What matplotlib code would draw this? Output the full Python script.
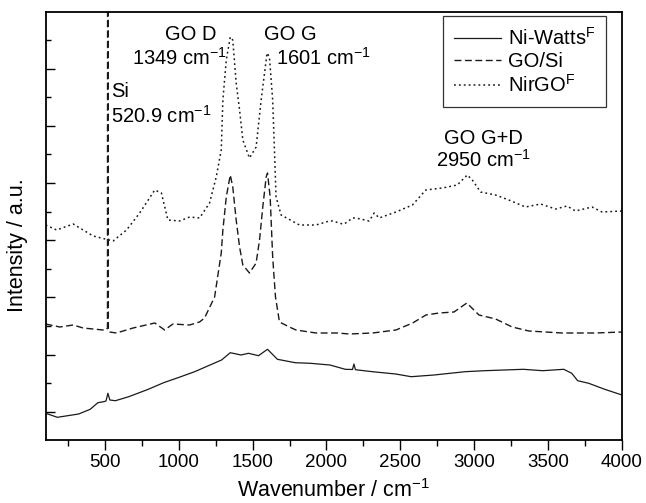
import matplotlib
matplotlib.use("Agg")
import matplotlib.pyplot as plt
from matplotlib.ticker import FixedLocator

plt.rcParams['font.family'] = ['Liberation Sans', 'DejaVu Sans']
plt.rcParams['mathtext.default'] = 'regular'

# ---------------- data (wavenumber in cm^-1, intensity in a.u.) ----------------
ni_watts_x = [100, 179, 323, 401, 453, 493, 508, 521, 534, 572, 662, 794, 898, 1003,
              1108, 1212, 1290, 1349, 1422, 1472, 1540, 1601, 1668, 1788, 1891, 2024,
              2127, 2176, 2186, 2196, 2310, 2469, 2573, 2728, 2937, 3070, 3201, 3332,
              3464, 3606, 3660, 3700, 3775, 3883, 4000]
ni_watts_y = [26.7, 22.7, 26, 30.7, 37.3, 38.3, 39, 46.7, 40, 39.3, 43.3, 50.7, 57.3, 62.7,
              68.3, 75, 80, 87.3, 85, 86.7, 84.3, 90.7, 80.7, 77.3, 76.7, 75,
              70.7, 70.5, 76, 70.3, 68.3, 66, 63.3, 65, 68.3, 69.3, 70, 70.7,
              69.3, 70.7, 66.7, 59.3, 56.7, 50.7, 45]

go_si_x = [100, 196, 286, 353, 489, 510, 518, 521, 524, 532, 579, 691, 838, 905, 961,
           1074, 1141, 1175, 1243, 1288, 1299, 1322, 1349, 1366, 1389, 1412, 1434,
           1479, 1524, 1547, 1569, 1592, 1601, 1619, 1636, 1655, 1682, 1749, 1794,
           1929, 2075, 2154, 2312, 2470, 2583, 2673, 2762, 2863, 2950, 3032, 3145,
           3257, 3370, 3595, 3820, 4000]
go_si_y = [116, 113, 115, 112, 110, 110, 112, 1500, 110, 108, 107, 112, 117, 110, 116,
           115, 118, 122, 143, 187, 210, 243, 265, 253, 220, 193, 175,
           167, 177, 200, 233, 263, 267, 243, 183, 143, 118, 113, 110,
           107, 107, 106, 107, 110, 117, 125, 127, 128, 137, 125, 121,
           113, 109, 107, 107, 108]

nirgo_x = [100, 174, 286, 421, 511, 556, 647, 736, 838, 883, 927, 1006, 1074, 1141,
           1209, 1254, 1288, 1299, 1322, 1349, 1366, 1389, 1412, 1434, 1479, 1524,
           1558, 1598, 1614, 1636, 1648, 1659, 1693, 1817, 1929, 2019, 2041, 2109,
           2120, 2177, 2199, 2289, 2323, 2357, 2470, 2582, 2672, 2784, 2885, 2953,
           2987, 3043, 3145, 3234, 3347, 3449, 3550, 3628, 3685, 3797, 3865, 4000]
nirgo_y = [215, 210, 216, 204, 200.7, 199, 210, 227, 250, 247, 220, 219, 223, 222,
           237, 263, 290, 340, 380, 403, 400, 357, 330, 300, 282, 293,
           340, 387, 383, 340, 290, 243, 225, 215, 215, 219, 219, 216,
           216, 222, 222, 219, 227, 222, 228, 235, 250, 252, 255, 265,
           260, 248, 245, 240, 233, 236, 231, 234, 229, 233, 228, 229]

series_labels = ['Ni-Watts$^{F}$', 'GO/Si', 'NirGO$^{F}$']
x_ticks = [500, 1000, 1500, 2000, 2500, 3000, 3500, 4000]
x_minor_ticks = [250, 750, 1250, 1750, 2250, 2750, 3250, 3750]

# ---------------- figure ----------------
W, H = 646, 503
fig = plt.figure(figsize=(W / 100, H / 100), dpi=100)
L, R, T, B = 45.7, 622.0, 12.3, 440.0
ax = fig.add_axes([L / W, (H - B) / H, (R - L) / W, (B - T) / H])

lc = '#1a1a1a'
ax.plot(ni_watts_x, ni_watts_y, '-', color=lc, lw=0.9, label=series_labels[0])
ax.plot(go_si_x, go_si_y, color=lc, lw=1.0, dashes=(5, 2.5), label=series_labels[1])
ax.plot(nirgo_x, nirgo_y, color=lc, lw=1.1, dashes=(1.2, 2.0), label=series_labels[2])

ax.set_xlim(100, 4000)
ax.set_ylim(0, 427.7)

ax.set_xticks(x_ticks)
ax.xaxis.set_minor_locator(FixedLocator(x_minor_ticks))
ax.yaxis.set_major_locator(FixedLocator([28.3 + 57.2 * k for k in range(7)]))
ax.yaxis.set_minor_locator(FixedLocator([56.9 + 57.2 * k for k in range(7)]))
ax.set_yticklabels([])

ax.tick_params(axis='x', which='major', direction='out', length=7.2, width=1.0,
               labelsize=13.5, pad=3, colors='black')
ax.tick_params(axis='x', which='minor', direction='out', length=4, width=1.0)
ax.tick_params(axis='y', which='major', direction='in', length=6.5, width=1.0)
ax.tick_params(axis='y', which='minor', direction='in', length=3.8, width=1.0)
ax.tick_params(top=False, right=False, which='both')
for s in ax.spines.values():
    s.set_linewidth(1.3)

ax.set_xlabel('Wavenumber / cm$^{-1}$', fontsize=15.5, labelpad=6)
ax.set_ylabel('Intensity / a.u.', fontsize=15.5)
ax.yaxis.set_label_coords(-0.031, 0.456)

fs = 14.5
ax.text(905, 400, 'GO D', fontsize=fs, ha='left', va='baseline')
ax.text(682, 375, '1349 cm$^{-1}$', fontsize=fs, ha='left', va='baseline')
ax.text(1580, 400, 'GO G', fontsize=fs, ha='left', va='baseline')
ax.text(1661, 375, '1601 cm$^{-1}$', fontsize=fs, ha='left', va='baseline')
ax.text(545, 343, 'Si', fontsize=fs, ha='left', va='baseline')
ax.text(545, 317, '520.9 cm$^{-1}$', fontsize=fs, ha='left', va='baseline')
ax.text(3060, 296, 'GO G+D', fontsize=fs, ha='center', va='baseline')
ax.text(3060, 273, '2950 cm$^{-1}$', fontsize=fs, ha='center', va='baseline')

leg = ax.legend(loc='upper right', bbox_to_anchor=(0.9723, 0.9913), borderaxespad=0,
                fontsize=14.5, frameon=True, fancybox=False, handlelength=2.3,
                handletextpad=0.35, labelspacing=0.15, borderpad=0.55)
leg.get_frame().set_edgecolor('black')
leg.get_frame().set_linewidth(0.9)

fig.savefig('out.png', dpi=100)
